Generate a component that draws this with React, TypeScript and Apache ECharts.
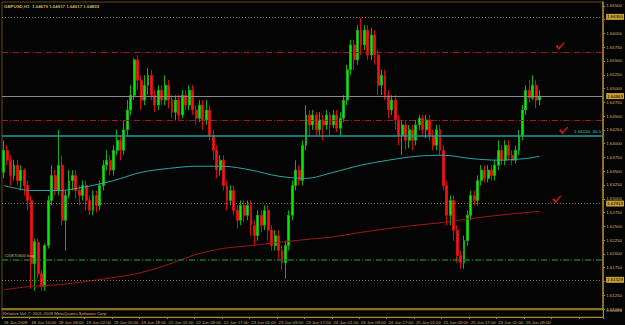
import React, { useEffect, useRef } from "react";
import * as echarts from "echarts";

const title = "GBPUSD,H1  1.64679 1.64917 1.64617 1.64859";

const tickLabels = [
  "18 Jun 2009", "18 Jun 10:00", "18 Jun 18:00", "19 Jun 02:00", "19 Jun 10:00",
  "19 Jun 18:00", "22 Jun 01:00", "22 Jun 09:00", "22 Jun 17:00", "23 Jun 01:00",
  "23 Jun 09:00", "23 Jun 17:00", "24 Jun 01:00", "24 Jun 09:00", "24 Jun 17:00",
  "25 Jun 01:00", "25 Jun 09:00", "25 Jun 17:00", "26 Jun 01:00", "26 Jun 09:00",
];

const open = [
  1.6348, 1.6388, 1.6370, 1.6342, 1.6361, 1.6333, 1.6352, 1.6324, 1.6297, 1.6182,
  1.6221, 1.6164, 1.6141, 1.6215, 1.6297, 1.6342, 1.6315, 1.6361, 1.6261, 1.6306,
  1.6333, 1.6342, 1.6315, 1.6306, 1.6324, 1.6297, 1.6279, 1.6306, 1.6288, 1.6324,
  1.6361, 1.6370, 1.6352, 1.6388, 1.6406, 1.6388, 1.6425, 1.6461, 1.6488, 1.6552,
  1.6515, 1.6479, 1.6506, 1.6524, 1.6488, 1.6470, 1.6497, 1.6479, 1.6506, 1.6479,
  1.6457, 1.6479, 1.6452, 1.6488, 1.6470, 1.6497, 1.6461, 1.6446, 1.6470, 1.6443,
  1.6461, 1.6415, 1.6388, 1.6352, 1.6370, 1.6324, 1.6297, 1.6315, 1.6279, 1.6261,
  1.6288, 1.6270, 1.6288, 1.6252, 1.6233, 1.6270, 1.6252, 1.6279, 1.6243, 1.6215,
  1.6233, 1.6206, 1.6184, 1.6215, 1.6270, 1.6324, 1.6352, 1.6333, 1.6397, 1.6452,
  1.6434, 1.6452, 1.6425, 1.6443, 1.6434, 1.6452, 1.6434, 1.6452, 1.6428, 1.6446,
  1.6479, 1.6534, 1.6579, 1.6552, 1.6606, 1.6579, 1.6606, 1.6561, 1.6597, 1.6561,
  1.6506, 1.6524, 1.6488, 1.6461, 1.6479, 1.6443, 1.6415, 1.6434, 1.6406, 1.6425,
  1.6406, 1.6434, 1.6446, 1.6425, 1.6443, 1.6415, 1.6397, 1.6425, 1.6388, 1.6324,
  1.6270, 1.6297, 1.6243, 1.6197, 1.6184, 1.6224, 1.6270, 1.6306, 1.6297, 1.6333,
  1.6352, 1.6337, 1.6352, 1.6342, 1.6361, 1.6388, 1.6370, 1.6397, 1.6379, 1.6370,
  1.6388, 1.6415, 1.6461, 1.6497, 1.6483, 1.6506, 1.6479,
];

const close = [
  1.6388, 1.6370, 1.6342, 1.6361, 1.6333, 1.6352, 1.6324, 1.6297, 1.6182, 1.6222,
  1.6164, 1.6141, 1.6215, 1.6297, 1.6342, 1.6315, 1.6361, 1.6261, 1.6306, 1.6333,
  1.6342, 1.6315, 1.6306, 1.6324, 1.6297, 1.6279, 1.6306, 1.6288, 1.6324, 1.6361,
  1.6370, 1.6352, 1.6388, 1.6406, 1.6388, 1.6425, 1.6461, 1.6488, 1.6552, 1.6515,
  1.6479, 1.6506, 1.6524, 1.6488, 1.6470, 1.6497, 1.6479, 1.6506, 1.6479, 1.6457,
  1.6479, 1.6452, 1.6488, 1.6470, 1.6497, 1.6461, 1.6446, 1.6470, 1.6443, 1.6461,
  1.6415, 1.6388, 1.6352, 1.6370, 1.6324, 1.6297, 1.6315, 1.6279, 1.6261, 1.6288,
  1.6270, 1.6288, 1.6252, 1.6233, 1.6270, 1.6252, 1.6279, 1.6243, 1.6215, 1.6233,
  1.6206, 1.6184, 1.6215, 1.6270, 1.6324, 1.6352, 1.6333, 1.6397, 1.6452, 1.6434,
  1.6452, 1.6425, 1.6443, 1.6434, 1.6452, 1.6434, 1.6452, 1.6428, 1.6446, 1.6479,
  1.6534, 1.6579, 1.6552, 1.6606, 1.6579, 1.6606, 1.6561, 1.6597, 1.6561, 1.6506,
  1.6524, 1.6488, 1.6461, 1.6479, 1.6443, 1.6415, 1.6434, 1.6406, 1.6425, 1.6406,
  1.6434, 1.6446, 1.6425, 1.6443, 1.6415, 1.6397, 1.6425, 1.6388, 1.6324, 1.6270,
  1.6297, 1.6243, 1.6197, 1.6184, 1.6224, 1.6270, 1.6306, 1.6297, 1.6333, 1.6352,
  1.6337, 1.6352, 1.6342, 1.6361, 1.6388, 1.6370, 1.6397, 1.6379, 1.6370, 1.6388,
  1.6415, 1.6461, 1.6497, 1.6483, 1.6506, 1.6479, 1.6486,
];

const low = [
  1.6337, 1.6361, 1.6324, 1.6333, 1.6324, 1.6315, 1.6306, 1.6279, 1.6137, 1.6133,
  1.6155, 1.6133, 1.6133, 1.6210, 1.6288, 1.6306, 1.6306, 1.6252, 1.6206, 1.6301,
  1.6315, 1.6301, 1.6288, 1.6297, 1.6279, 1.6270, 1.6270, 1.6275, 1.6279, 1.6315,
  1.6352, 1.6342, 1.6342, 1.6379, 1.6370, 1.6379, 1.6415, 1.6452, 1.6479, 1.6497,
  1.6461, 1.6470, 1.6488, 1.6479, 1.6457, 1.6461, 1.6470, 1.6470, 1.6464, 1.6446,
  1.6443, 1.6443, 1.6446, 1.6461, 1.6461, 1.6452, 1.6434, 1.6439, 1.6425, 1.6434,
  1.6406, 1.6370, 1.6337, 1.6342, 1.6315, 1.6279, 1.6288, 1.6270, 1.6246, 1.6252,
  1.6257, 1.6261, 1.6233, 1.6215, 1.6224, 1.6239, 1.6243, 1.6224, 1.6206, 1.6206,
  1.6191, 1.6170, 1.6155, 1.6206, 1.6261, 1.6315, 1.6324, 1.6324, 1.6388, 1.6415,
  1.6425, 1.6415, 1.6415, 1.6406, 1.6425, 1.6415, 1.6428, 1.6421, 1.6415, 1.6439,
  1.6470, 1.6524, 1.6534, 1.6543, 1.6561, 1.6570, 1.6552, 1.6552, 1.6543, 1.6488,
  1.6488, 1.6479, 1.6446, 1.6452, 1.6425, 1.6397, 1.6379, 1.6388, 1.6392, 1.6388,
  1.6397, 1.6425, 1.6415, 1.6410, 1.6406, 1.6388, 1.6388, 1.6379, 1.6315, 1.6252,
  1.6252, 1.6224, 1.6184, 1.6173, 1.6173, 1.6215, 1.6261, 1.6288, 1.6288, 1.6324,
  1.6330, 1.6330, 1.6333, 1.6333, 1.6352, 1.6361, 1.6361, 1.6370, 1.6361, 1.6364,
  1.6379, 1.6406, 1.6452, 1.6475, 1.6479, 1.6464, 1.6470,
];

const high = [
  1.6406, 1.6397, 1.6379, 1.6370, 1.6370, 1.6361, 1.6355, 1.6333, 1.6306, 1.6228,
  1.6228, 1.6170, 1.6219, 1.6306, 1.6361, 1.6352, 1.6425, 1.6379, 1.6315, 1.6352,
  1.6352, 1.6352, 1.6324, 1.6333, 1.6333, 1.6306, 1.6315, 1.6315, 1.6333, 1.6370,
  1.6388, 1.6379, 1.6397, 1.6425, 1.6415, 1.6443, 1.6479, 1.6506, 1.6555, 1.6561,
  1.6524, 1.6524, 1.6537, 1.6534, 1.6497, 1.6506, 1.6506, 1.6524, 1.6515, 1.6488,
  1.6488, 1.6488, 1.6497, 1.6497, 1.6506, 1.6506, 1.6470, 1.6479, 1.6479, 1.6479,
  1.6470, 1.6425, 1.6397, 1.6379, 1.6379, 1.6333, 1.6324, 1.6324, 1.6288, 1.6297,
  1.6297, 1.6297, 1.6297, 1.6261, 1.6279, 1.6279, 1.6288, 1.6288, 1.6252, 1.6243,
  1.6243, 1.6215, 1.6224, 1.6279, 1.6333, 1.6370, 1.6361, 1.6406, 1.6470, 1.6461,
  1.6461, 1.6457, 1.6457, 1.6452, 1.6461, 1.6457, 1.6461, 1.6461, 1.6457, 1.6488,
  1.6543, 1.6588, 1.6588, 1.6615, 1.6628, 1.6615, 1.6615, 1.6610, 1.6606, 1.6570,
  1.6534, 1.6534, 1.6497, 1.6488, 1.6488, 1.6452, 1.6443, 1.6443, 1.6434, 1.6434,
  1.6443, 1.6452, 1.6452, 1.6452, 1.6452, 1.6425, 1.6434, 1.6434, 1.6397, 1.6333,
  1.6306, 1.6306, 1.6252, 1.6206, 1.6233, 1.6279, 1.6315, 1.6315, 1.6342, 1.6361,
  1.6361, 1.6361, 1.6361, 1.6370, 1.6406, 1.6397, 1.6406, 1.6406, 1.6388, 1.6397,
  1.6425, 1.6470, 1.6506, 1.6515, 1.6524, 1.6515, 1.6497,
];

// moving averages, read at every 8th bar
const maIndex = [0, 8, 16, 24, 32, 40, 48, 56, 64, 72, 80, 88, 96, 104, 112, 120, 128, 136, 144, 152, 156];
const maFast = [
  1.6324, 1.6315, 1.6315, 1.6322, 1.6333, 1.6348, 1.6355, 1.6359, 1.6359, 1.6352, 1.6341,
  1.6337, 1.6348, 1.6361, 1.6370, 1.6377, 1.6379, 1.6373, 1.6370, 1.6373, 1.6377,
];
const maSlow = [
  1.6135, 1.6141, 1.6144, 1.6150, 1.6157, 1.6166, 1.6181, 1.6199, 1.6210, 1.6215, 1.6221,
  1.6226, 1.6231, 1.6239, 1.6246, 1.6252, 1.6257, 1.6264, 1.6270, 1.6275, 1.6277,
];

// horizontal levels
const resistanceLevels = [1.663, 1.62913, 1.61529];
const targetLevels = [1.65657, 1.64424];
const bidPrice = 1.64863;
const trendLevel = 1.64146;
const trendLabel = "1.64150  30.5";
const orderPrice = 1.61893;
const orderLabel = "#20870600 buy";

// check marks: [bar index, price]
const checks = [
  [162, 1.6577],
  [163, 1.6424],
  [161, 1.6299],
];

const subLabel = "Relative Vol  © 2001-2009 MetaQuotes Software Corp.";
const subMax = 0.00054;

const TOTAL_BARS = 175;

export default function App() {
  const ref = useRef<HTMLDivElement>(null);
  useEffect(() => {
    const chart = echarts.init(ref.current!, null, { renderer: "svg" });
    const categories = Array.from({ length: TOTAL_BARS }, (_, i) => String(i));
    const candles = open.map((o, i) => [o, close[i], low[i], high[i]]);
    const highlighted = [...resistanceLevels, bidPrice];
    const gold = "#c9b061";
    const font = "Liberation Sans";
    const small = 4.4;
    const hl = (v: number) => ({
      show: true,
      position: "end",
      distance: 3,
      formatter: v.toFixed(5),
      backgroundColor: "#c8a032",
      color: "#000",
      fontSize: small,
      fontFamily: font,
      padding: [1, 1, 1, 1],
    });
    const markData: any[] = [];
    resistanceLevels.forEach((v) =>
      markData.push({
        yAxis: v,
        lineStyle: { color: "#8f7a3a", type: [1, 2], width: 1 },
        label: hl(v),
      })
    );
    targetLevels.forEach((v) =>
      markData.push({
        yAxis: v,
        lineStyle: { color: "#b01414", type: [6, 2, 1, 2], width: 1 },
        label: { show: false },
      })
    );
    markData.push({
      yAxis: bidPrice,
      lineStyle: { color: "#8a8a8a", type: "solid", width: 1 },
      label: hl(bidPrice),
    });
    markData.push({
      yAxis: trendLevel,
      lineStyle: { color: "#1f9c9c", type: "solid", width: 1.5 },
      label: {
        show: true,
        position: "insideEndTop",
        distance: 2,
        formatter: trendLabel,
        color: "#3cc8c8",
        fontSize: small,
        fontFamily: font,
      },
    });
    markData.push({
      yAxis: orderPrice,
      lineStyle: { color: "#127a12", type: [6, 2, 1, 2], width: 1.5 },
      label: {
        show: true,
        position: "insideStartTop",
        distance: 2,
        formatter: orderLabel,
        color: gold,
        fontSize: small,
        fontFamily: font,
      },
    });

    const option: any = {
      animation: false,
      backgroundColor: "#050404",
      textStyle: { fontFamily: font },
      grid: [
        { left: 2, right: 18, top: 2, height: 307, show: true, borderColor: "#5a4a1e", borderWidth: 1 },
        { left: 2, right: 18, top: 310, height: 7, show: true, borderColor: "#5a4a1e", borderWidth: 1 },
      ],
      xAxis: [
        {
          type: "category",
          gridIndex: 0,
          data: categories,
          boundaryGap: true,
          axisLine: { show: true, lineStyle: { color: "#a8882e", width: 1.5 } },
          axisTick: { show: false },
          axisLabel: { show: false },
          splitLine: { show: false },
        },
        {
          type: "category",
          gridIndex: 1,
          data: categories,
          boundaryGap: true,
          axisLine: { show: true, lineStyle: { color: "#a8882e" } },
          axisTick: { show: true, interval: 7, length: 2, lineStyle: { color: "#a8882e" } },
          axisLabel: {
            show: true,
            interval: 7,
            align: "left",
            margin: 3,
            fontSize: 4.3,
            color: gold,
            formatter: (v: string) => {
              const i = Number(v);
              return i % 8 === 0 && tickLabels[i / 8] ? tickLabels[i / 8] : "";
            },
          },
          splitLine: { show: false },
        },
      ],
      yAxis: [
        {
          type: "value",
          gridIndex: 0,
          position: "right",
          min: 1.61,
          max: 1.6657,
          interval: 0.0025,
          axisLine: { show: true, lineStyle: { color: "#a8882e", width: 1.5 } },
          axisTick: { show: true, length: 2, inside: false, lineStyle: { color: "#a8882e" } },
          axisLabel: {
            show: true,
            margin: 3,
            fontSize: small,
            color: gold,
            showMaxLabel: false,
            formatter: (v: number) =>
              highlighted.some((h) => Math.abs(h - v) < 0.0008) ? "" : v.toFixed(5),
          },
          splitLine: { show: false },
        },
        {
          type: "value",
          gridIndex: 1,
          position: "right",
          min: 0,
          max: subMax,
          interval: subMax,
          axisLine: { show: true, lineStyle: { color: "#a8882e" } },
          axisTick: { show: false },
          axisLabel: {
            show: true,
            margin: 3,
            fontSize: small,
            color: gold,
            showMinLabel: false,
            formatter: (v: number) => v.toFixed(5),
          },
          splitLine: { show: false },
        },
      ],
      series: [
        {
          type: "candlestick",
          xAxisIndex: 0,
          yAxisIndex: 0,
          data: candles,
          barWidth: 2.4,
          itemStyle: {
            color: "#00ee00",
            color0: "#ff1010",
            borderColor: "#10b010",
            borderColor0: "#d01010",
            borderWidth: 1,
          },
          markLine: {
            silent: true,
            symbol: "none",
            precision: 5,
            animation: false,
            data: markData,
          },
        },
        {
          type: "line",
          xAxisIndex: 0,
          yAxisIndex: 0,
          data: maIndex.map((x, k) => [x, maFast[k]]),
          showSymbol: false,
          smooth: 0.3,
          lineStyle: { color: "#2aa7a7", width: 1 },
        },
        {
          type: "line",
          xAxisIndex: 0,
          yAxisIndex: 0,
          data: maIndex.map((x, k) => [x, maSlow[k]]),
          showSymbol: false,
          smooth: 0.3,
          lineStyle: { color: "#a01818", width: 1 },
        },
        {
          type: "scatter",
          xAxisIndex: 0,
          yAxisIndex: 0,
          data: checks,
          symbol: "path://M0,5 L2,3 L4,6 L10,0 L11,1 L4,9 Z",
          symbolSize: [9, 8],
          itemStyle: { color: "#ff1a1a" },
        },
      ],
      graphic: [
        {
          type: "text",
          left: 4,
          top: 4,
          style: { text: title, fill: gold, fontSize: 4.4, fontFamily: font, fontWeight: "bold" },
        },
        {
          type: "text",
          left: 3,
          top: 311,
          style: { text: subLabel, fill: gold, fontSize: 4.3, fontFamily: font },
        },
      ],
    };
    chart.setOption(option);
    return () => chart.dispose();
  }, []);
  return (
    <div
      ref={ref}
      style={{ position: "fixed", left: 0, top: 0, width: 625, height: 325, background: "#050404" }}
    />
  );
}
